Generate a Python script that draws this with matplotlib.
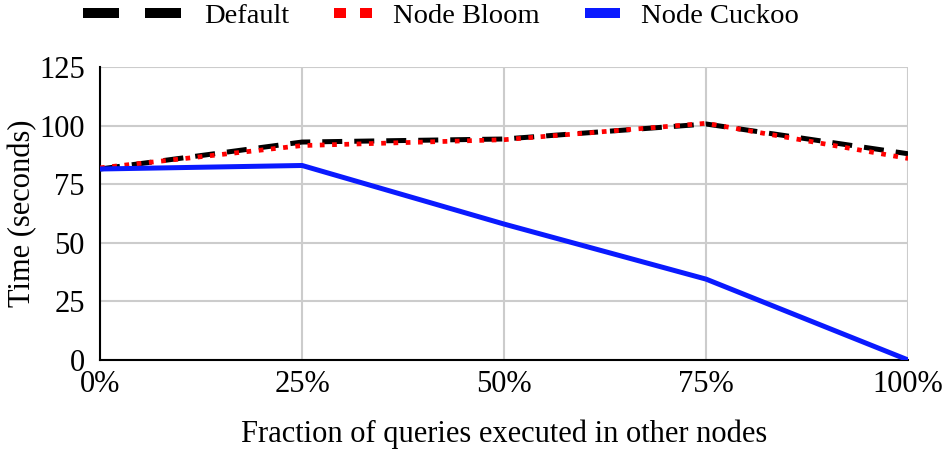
import matplotlib
matplotlib.use("Agg")
import matplotlib.pyplot as plt
from matplotlib.lines import Line2D

x_labels = ["0%", "25%", "50%", "75%", "100%"]
x_vals = [0, 25, 50, 75, 100]
default = [81.5, 93, 94.3, 100.7, 88]
node_bloom = [82, 91.5, 94, 101, 86]
node_cuckoo = [81.5, 83, 58, 34.5, 0]

plt.rcParams['font.family'] = ['Liberation Serif', 'DejaVu Serif']

BLACK = '#000000'
RED = '#ff0000'
BLUE = '#0a1aff'

fig = plt.figure(figsize=(9.44, 4.5), dpi=100)
ax = fig.add_axes([0.106, 0.2, 0.856, 0.651])

l1, = ax.plot(x_vals, default, color=BLACK, lw=3.6, dashes=[4, 2.4],
              dash_capstyle='butt', label='Default', zorder=3)
l2, = ax.plot(x_vals, node_bloom, color=RED, lw=3.4, dashes=[1.0, 1.6],
              dash_capstyle='butt', label='Node Bloom', zorder=4)
l3, = ax.plot(x_vals, node_cuckoo, color=BLUE, lw=3.6, label='Node Cuckoo',
              solid_capstyle='round', zorder=5)

ax.set_xlim(0, 100)
ax.set_ylim(0, 125)
ax.set_xticks(x_vals)
ax.set_xticklabels(x_labels)
ax.set_yticks([0, 25, 50, 75, 100, 125])
ax.grid(True, color='#cccccc', lw=1.5)
ax.set_axisbelow(True)
for s in ['top', 'right']:
    ax.spines[s].set_visible(False)
for s in ['left', 'bottom']:
    ax.spines[s].set_color('black')
    ax.spines[s].set_linewidth(1.5)
ax.tick_params(length=0, labelsize=22)
ax.tick_params(axis='y', pad=11)
ax.tick_params(axis='x', pad=7)
ax.set_xlabel('Fraction of queries executed in other nodes', fontsize=22, labelpad=15)
ax.set_ylabel('Time (seconds)', fontsize=22, labelpad=1)

# legend: one entry per legend box so each handle keeps its own length
px = 0.72  # points per pixel at 100 dpi
lfs = 20.5
entries = [
    (Line2D([], [], color=BLACK, lw=10 * px, dashes=[3.6, 2.6], dash_capstyle='butt'),
     l1.get_label(), 100, 83),
    (Line2D([], [], color=RED, lw=10 * px, dashes=[1.2, 1.4], dash_capstyle='butt'),
     l2.get_label(), 38, 334),
    (Line2D([], [], color=BLUE, lw=10 * px, solid_capstyle='butt'),
     l3.get_label(), 35, 585),
]
for h, lab, hlen_px, x0 in entries:
    leg = fig.legend(handles=[h], labels=[lab], loc='center left',
                     bbox_to_anchor=(x0 / 944, 1 - 16 / 450), frameon=False,
                     fontsize=lfs, handlelength=hlen_px * px / lfs,
                     handletextpad=21 * px / lfs, borderpad=0, borderaxespad=0)

fig.savefig('out.png', dpi=100)
